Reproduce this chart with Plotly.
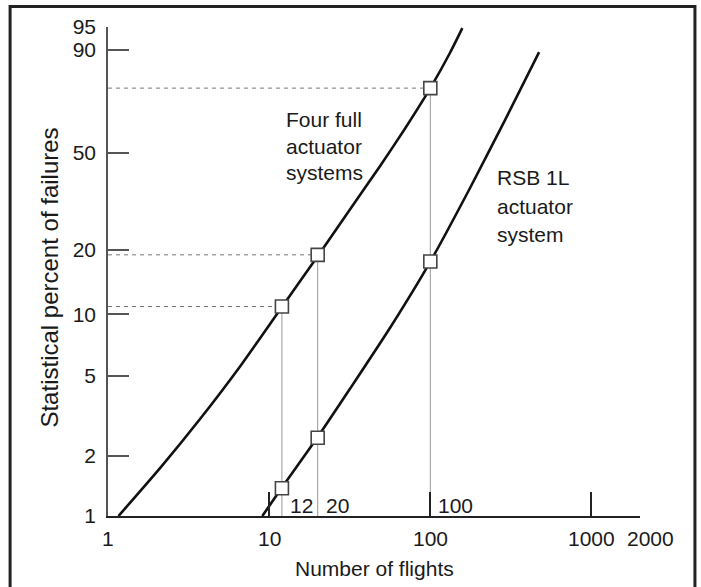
import math
import plotly.graph_objects as go

# ---- data (flights, statistical percent of failures) ----
upper_x = [1.162, 2.116, 3.745, 6.63, 12, 20, 31.87, 48.92, 69.87, 100, 132.8, 158]
upper_p = [1.0, 1.75, 3.08, 5.61, 10.85, 18.7, 30.2, 44.8, 60.2, 77.0, 89.2, 94.8]

lower_x = [9.07, 12, 20, 31.87, 56.4, 100, 176.7, 291.2, 473]
lower_p = [1.0, 1.39, 2.49, 4.35, 8.64, 17.7, 36.9, 63.8, 89.3]

marked_flights = [12, 20, 100]
upper_marked_p = [10.9, 19.0, 77.0]
lower_marked_p = [1.38, 2.47, 17.7]

y_tick_vals = [1, 2, 5, 10, 20, 50, 90, 95]
y_tick_text = ["1", "2", "5", "10", "20", "50", "90", "95"]
x_tick_vals = [1, 10, 100, 1000, 2000]
x_tick_text = ["1", "10", "100", "1000", "2000"]
inner_labels = [12, 20, 100]

label_upper = ["Four full", "actuator", "systems"]
label_lower = ["RSB 1L", "actuator", "system"]


def w(p):
    """Weibull probability scale."""
    return math.log(-math.log(1.0 - p / 100.0))


FONT = "Liberation Sans, Arial, Helvetica, sans-serif"
TXT = "#1a1a1a"

# plot-area geometry (pixels)
L, R, T, B = 107.5, 640.0, 27.0, 516.0
W, H = 701, 587
PW, PH = R - L, B - T


def px(xp):
    return (xp - L) / PW


def py(yp):
    return (B - yp) / PH


fig = go.Figure()

# guide lines (dashed horizontals and gray verticals)
for fx, up in zip(marked_flights, upper_marked_p):
    fig.add_trace(go.Scatter(x=[1, fx], y=[w(up), w(up)], mode="lines",
                             line=dict(color="#777", width=1, dash="4px,4px"),
                             hoverinfo="skip", showlegend=False))
    fig.add_trace(go.Scatter(x=[fx, fx], y=[w(y_tick_vals[0]), w(up)], mode="lines",
                             line=dict(color="#999", width=1),
                             hoverinfo="skip", showlegend=False))

# curves
for xs, ps in ((upper_x, upper_p), (lower_x, lower_p)):
    fig.add_trace(go.Scatter(x=xs, y=[w(p) for p in ps], mode="lines",
                             line=dict(color="#111", width=2.6, shape="spline", smoothing=0.6),
                             showlegend=False))

# markers
for ps in (upper_marked_p, lower_marked_p):
    fig.add_trace(go.Scatter(x=marked_flights, y=[w(p) for p in ps], mode="markers",
                             marker=dict(symbol="square", size=13, color="white",
                                         line=dict(color="#444", width=1.6)),
                             showlegend=False))

annotations = []
# labels written inside the plot next to the 12 / 20 / 100 lines
for v in inner_labels:
    annotations.append(dict(x=math.log10(v), xref="x", y=0, yref="paper",
                            text=str(v), showarrow=False, xanchor="left", yanchor="middle",
                            xshift=6, yshift=-(505 - B),
                            font=dict(family=FONT, size=21, color=TXT)))
# x tick labels under the axis
for v, t in zip(x_tick_vals, x_tick_text):
    annotations.append(dict(x=math.log10(v), xref="x", y=0, yref="paper",
                            text=t, showarrow=False, xanchor="center", yanchor="middle",
                            xshift=10 if v == 2000 else 0, yshift=-(538.5 - B),
                            font=dict(family=FONT, size=21, color=TXT)))

# curve labels, one annotation per line
for i, t in enumerate(label_upper):
    annotations.append(dict(x=px(284), y=py(119.5 + 26.7 * i), xref="paper", yref="paper",
                            text=t, showarrow=False, xanchor="left", yanchor="middle",
                            font=dict(family=FONT, size=21, color=TXT)))
for i, t in enumerate(label_lower):
    annotations.append(dict(x=px(495), y=py(178 + 28.5 * i), xref="paper", yref="paper",
                            text=t, showarrow=False, xanchor="left", yanchor="middle",
                            font=dict(family=FONT, size=21, color=TXT)))

annotations += [
    dict(x=px(374), y=py(568.5), xref="paper", yref="paper",
         text="Number of flights", showarrow=False, xanchor="center", yanchor="middle",
         font=dict(family=FONT, size=21, color=TXT)),
    dict(x=px(48), y=py(278), xref="paper", yref="paper",
         text="Statistical percent of failures", textangle=-90, showarrow=False,
         xanchor="center", yanchor="middle", font=dict(family=FONT, size=24, color=TXT)),
]

fig.update_layout(
    width=W, height=H,
    margin=dict(l=L, r=W - R, t=T, b=H - B, pad=0),
    paper_bgcolor="white", plot_bgcolor="white",
    showlegend=False,
    annotations=annotations,
    shapes=[dict(type="rect", xref="paper", yref="paper",
                 x0=px(9.5), x1=px(695), y0=py(600), y1=py(6.5),
                 line=dict(color="#222", width=3), fillcolor="rgba(0,0,0,0)", layer="above")],
    xaxis=dict(type="log", range=[0, math.log10(2000)], showgrid=False, zeroline=False,
               showline=True, linecolor="#222", linewidth=1.5,
               ticks="inside", ticklen=24, tickwidth=1.5, tickcolor="#222",
               tickvals=x_tick_vals, showticklabels=False),
    yaxis=dict(range=[w(1), w(95)], showgrid=False, zeroline=False,
               showline=True, linecolor="#555", linewidth=1.5,
               ticks="inside", ticklen=21, tickwidth=1.8, tickcolor="#555",
               tickvals=[w(p) for p in y_tick_vals], ticktext=y_tick_text,
               tickfont=dict(family=FONT, size=21, color=TXT), ticklabelstandoff=6),
)

fig.write_html("out.html", config={"displayModeBar": False},
               post_script="document.body.style.margin='0';")
